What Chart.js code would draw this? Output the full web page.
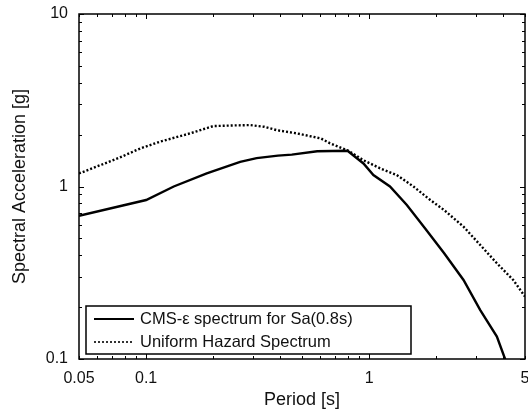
<!DOCTYPE html>
<html>
<head>
<meta charset="utf-8">
<script src="https://cdn.jsdelivr.net/npm/chart.js@4/dist/chart.umd.min.js"></script>
<style>
html,body{margin:0;padding:0;background:#fff;}
#wrap{width:528px;height:413px;}
</style>
</head>
<body>
<div id="wrap"><canvas id="c" width="528" height="413"></canvas></div>
<script>
// ---- Data ----
const cmsPeriods = [0.05, 0.1, 0.133, 0.187, 0.264, 0.313, 0.39, 0.45, 0.585, 0.8, 0.943, 1.045, 1.24, 1.476, 1.78, 2.17, 2.65, 3.15, 3.74, 4.07, 4.15];
const cmsSa      = [0.677, 0.835, 1.0, 1.19, 1.39, 1.46, 1.51, 1.53, 1.60, 1.61, 1.36, 1.166, 1.0, 0.781, 0.573, 0.41, 0.287, 0.192, 0.135, 0.10, 0.094];

const uhsPeriods = [0.05, 0.075, 0.094, 0.1155, 0.157, 0.2, 0.25, 0.292, 0.338, 0.386, 0.476, 0.607, 0.668, 0.808, 0.943, 1.12, 1.33, 1.58, 1.88, 2.17, 2.65, 3.74, 4.43, 5.0];
const uhsSa      = [1.19, 1.46, 1.66, 1.82, 2.03, 2.24, 2.26, 2.27, 2.22, 2.12, 2.03, 1.90, 1.78, 1.61, 1.42, 1.275, 1.166, 1.0, 0.835, 0.73, 0.585, 0.359, 0.287, 0.23];

const seriesNames = ['CMS-\u03B5 spectrum for Sa(0.8s)', 'Uniform Hazard Spectrum'];

const xTickValues  = [0.05, 0.06, 0.07, 0.08, 0.09, 0.1, 0.2, 0.3, 0.4, 0.5, 0.6, 0.7, 0.8, 0.9, 1, 2, 3, 4, 5];
const xLabelValues = [0.05, 0.1, 1, 5];
const xLabelTexts  = ['0.05', '0.1', '1', '5'];
const yTickValues  = [0.1, 0.2, 0.3, 0.4, 0.5, 0.6, 0.7, 0.8, 0.9, 1, 2, 3, 4, 5, 6, 7, 8, 9, 10];
const yLabelValues = [0.1, 1, 10];
const yLabelTexts  = ['0.1', '1', '10'];

const xTitle = 'Period [s]';
const yTitle = 'Spectral Acceleration [g]';

// ---- helpers ----
const toPts = (xs, ys) => xs.map((v, i) => ({x: v, y: ys[i]}));
const near = (a, b) => Math.abs(a - b) < 1e-9 * Math.max(1, Math.abs(b));
const labelFor = (vals, texts, v) => { const i = vals.findIndex(t => near(t, v)); return i >= 0 ? texts[i] : ''; };
const isDecade = v => { const l = Math.log10(v); return Math.abs(l - Math.round(l)) < 1e-9; };

const FONT = '"Liberation Sans", Arial, Helvetica, sans-serif';

const frameTicks = {
  id: 'frameTicks',
  afterDatasetsDraw(chart) {
    const {ctx, chartArea: a, scales: {x, y}} = chart;
    ctx.save();
    ctx.strokeStyle = '#000';
    ctx.lineWidth = 1;
    ctx.beginPath();
    xTickValues.forEach(v => {
      const px = Math.round(x.getPixelForValue(v)) + 0.5;
      const len = isDecade(v) ? 5 : 3;
      ctx.moveTo(px, a.top); ctx.lineTo(px, a.top + len);
      ctx.moveTo(px, a.bottom); ctx.lineTo(px, a.bottom - len);
    });
    yTickValues.forEach(v => {
      const py = Math.round(y.getPixelForValue(v)) + 0.5;
      const len = isDecade(v) ? 5 : 3;
      ctx.moveTo(a.left, py); ctx.lineTo(a.left + len, py);
      ctx.moveTo(a.right, py); ctx.lineTo(a.right - len, py);
    });
    ctx.stroke();
    ctx.lineWidth = 1.5;
    ctx.strokeRect(a.left, a.top, a.right - a.left, a.bottom - a.top);
    ctx.restore();
  }
};

const boxLegend = {
  id: 'boxLegend',
  afterDraw(chart) {
    const {ctx, chartArea: a} = chart;
    const ds = chart.data.datasets;
    const L = a.left + 7, R = a.left + 332, B = a.bottom - 5, T = B - 48;
    ctx.save();
    ctx.fillStyle = '#fff';
    ctx.fillRect(L, T, R - L, B - T);
    ctx.strokeStyle = '#000';
    ctx.lineWidth = 1.5;
    ctx.strokeRect(L, T, R - L, B - T);
    const rows = [T + 13, T + 36];
    ds.forEach((d, i) => {
      const yy = rows[i];
      ctx.beginPath();
      ctx.strokeStyle = d.borderColor;
      ctx.lineWidth = i === 0 ? 2.2 : 1.6;
      ctx.setLineDash(d.borderDash || []);
      ctx.moveTo(L + 8, yy); ctx.lineTo(L + 48, yy);
      ctx.stroke();
      ctx.setLineDash([]);
      ctx.fillStyle = '#111';
      ctx.font = '16.5px ' + FONT;
      ctx.textBaseline = 'middle';
      ctx.textAlign = 'left';
      ctx.fillText(d.label, L + 54, yy);
    });
    ctx.restore();
  }
};

new Chart(document.getElementById('c'), {
  type: 'scatter',
  data: {
    datasets: [
      {
        label: seriesNames[0],
        data: toPts(cmsPeriods, cmsSa),
        showLine: true,
        borderColor: '#000',
        borderWidth: 2.4,
        pointRadius: 0,
        tension: 0
      },
      {
        label: seriesNames[1],
        data: toPts(uhsPeriods, uhsSa),
        showLine: true,
        borderColor: '#000',
        borderWidth: 2.4,
        borderDash: [2, 2],
        pointRadius: 0,
        tension: 0
      }
    ]
  },
  options: {
    responsive: false,
    animation: false,
    devicePixelRatio: 1,
    layout: {padding: {left: 0, right: 3, top: 14, bottom: 0}},
    plugins: {legend: {display: false}, tooltip: {enabled: false}},
    scales: {
      x: {
        type: 'logarithmic',
        min: 0.05, max: 5,
        grid: {display: false, drawTicks: false},
        border: {display: false},
        afterBuildTicks: s => { s.ticks = xTickValues.map(v => ({value: v})); },
        afterFit: s => { s.height = 54; s.paddingRight = 3; s.paddingLeft = 0; },
        ticks: {
          autoSkip: false, maxRotation: 0, minRotation: 0,
          padding: 10,
          color: '#111',
          font: {family: FONT, size: 16},
          callback: v => labelFor(xLabelValues, xLabelTexts, v)
        },
        title: {display: true, text: xTitle, color: '#111', font: {family: FONT, size: 18}, padding: {top: 0, bottom: 2}}
      },
      y: {
        type: 'logarithmic',
        min: 0.1, max: 10,
        grid: {display: false, drawTicks: false},
        border: {display: false},
        afterBuildTicks: s => { s.ticks = yTickValues.map(v => ({value: v})); },
        afterFit: s => { s.width = 79; s.paddingTop = 0; s.paddingBottom = 0; },
        ticks: {
          autoSkip: false,
          padding: 11,
          color: '#111',
          font: {family: FONT, size: 16},
          callback: v => labelFor(yLabelValues, yLabelTexts, v)
        },
        title: {display: true, text: yTitle, color: '#111', font: {family: FONT, size: 18}, padding: {top: 9, bottom: 0}}
      }
    }
  },
  plugins: [frameTicks, boxLegend]
});
</script>
</body>
</html>
